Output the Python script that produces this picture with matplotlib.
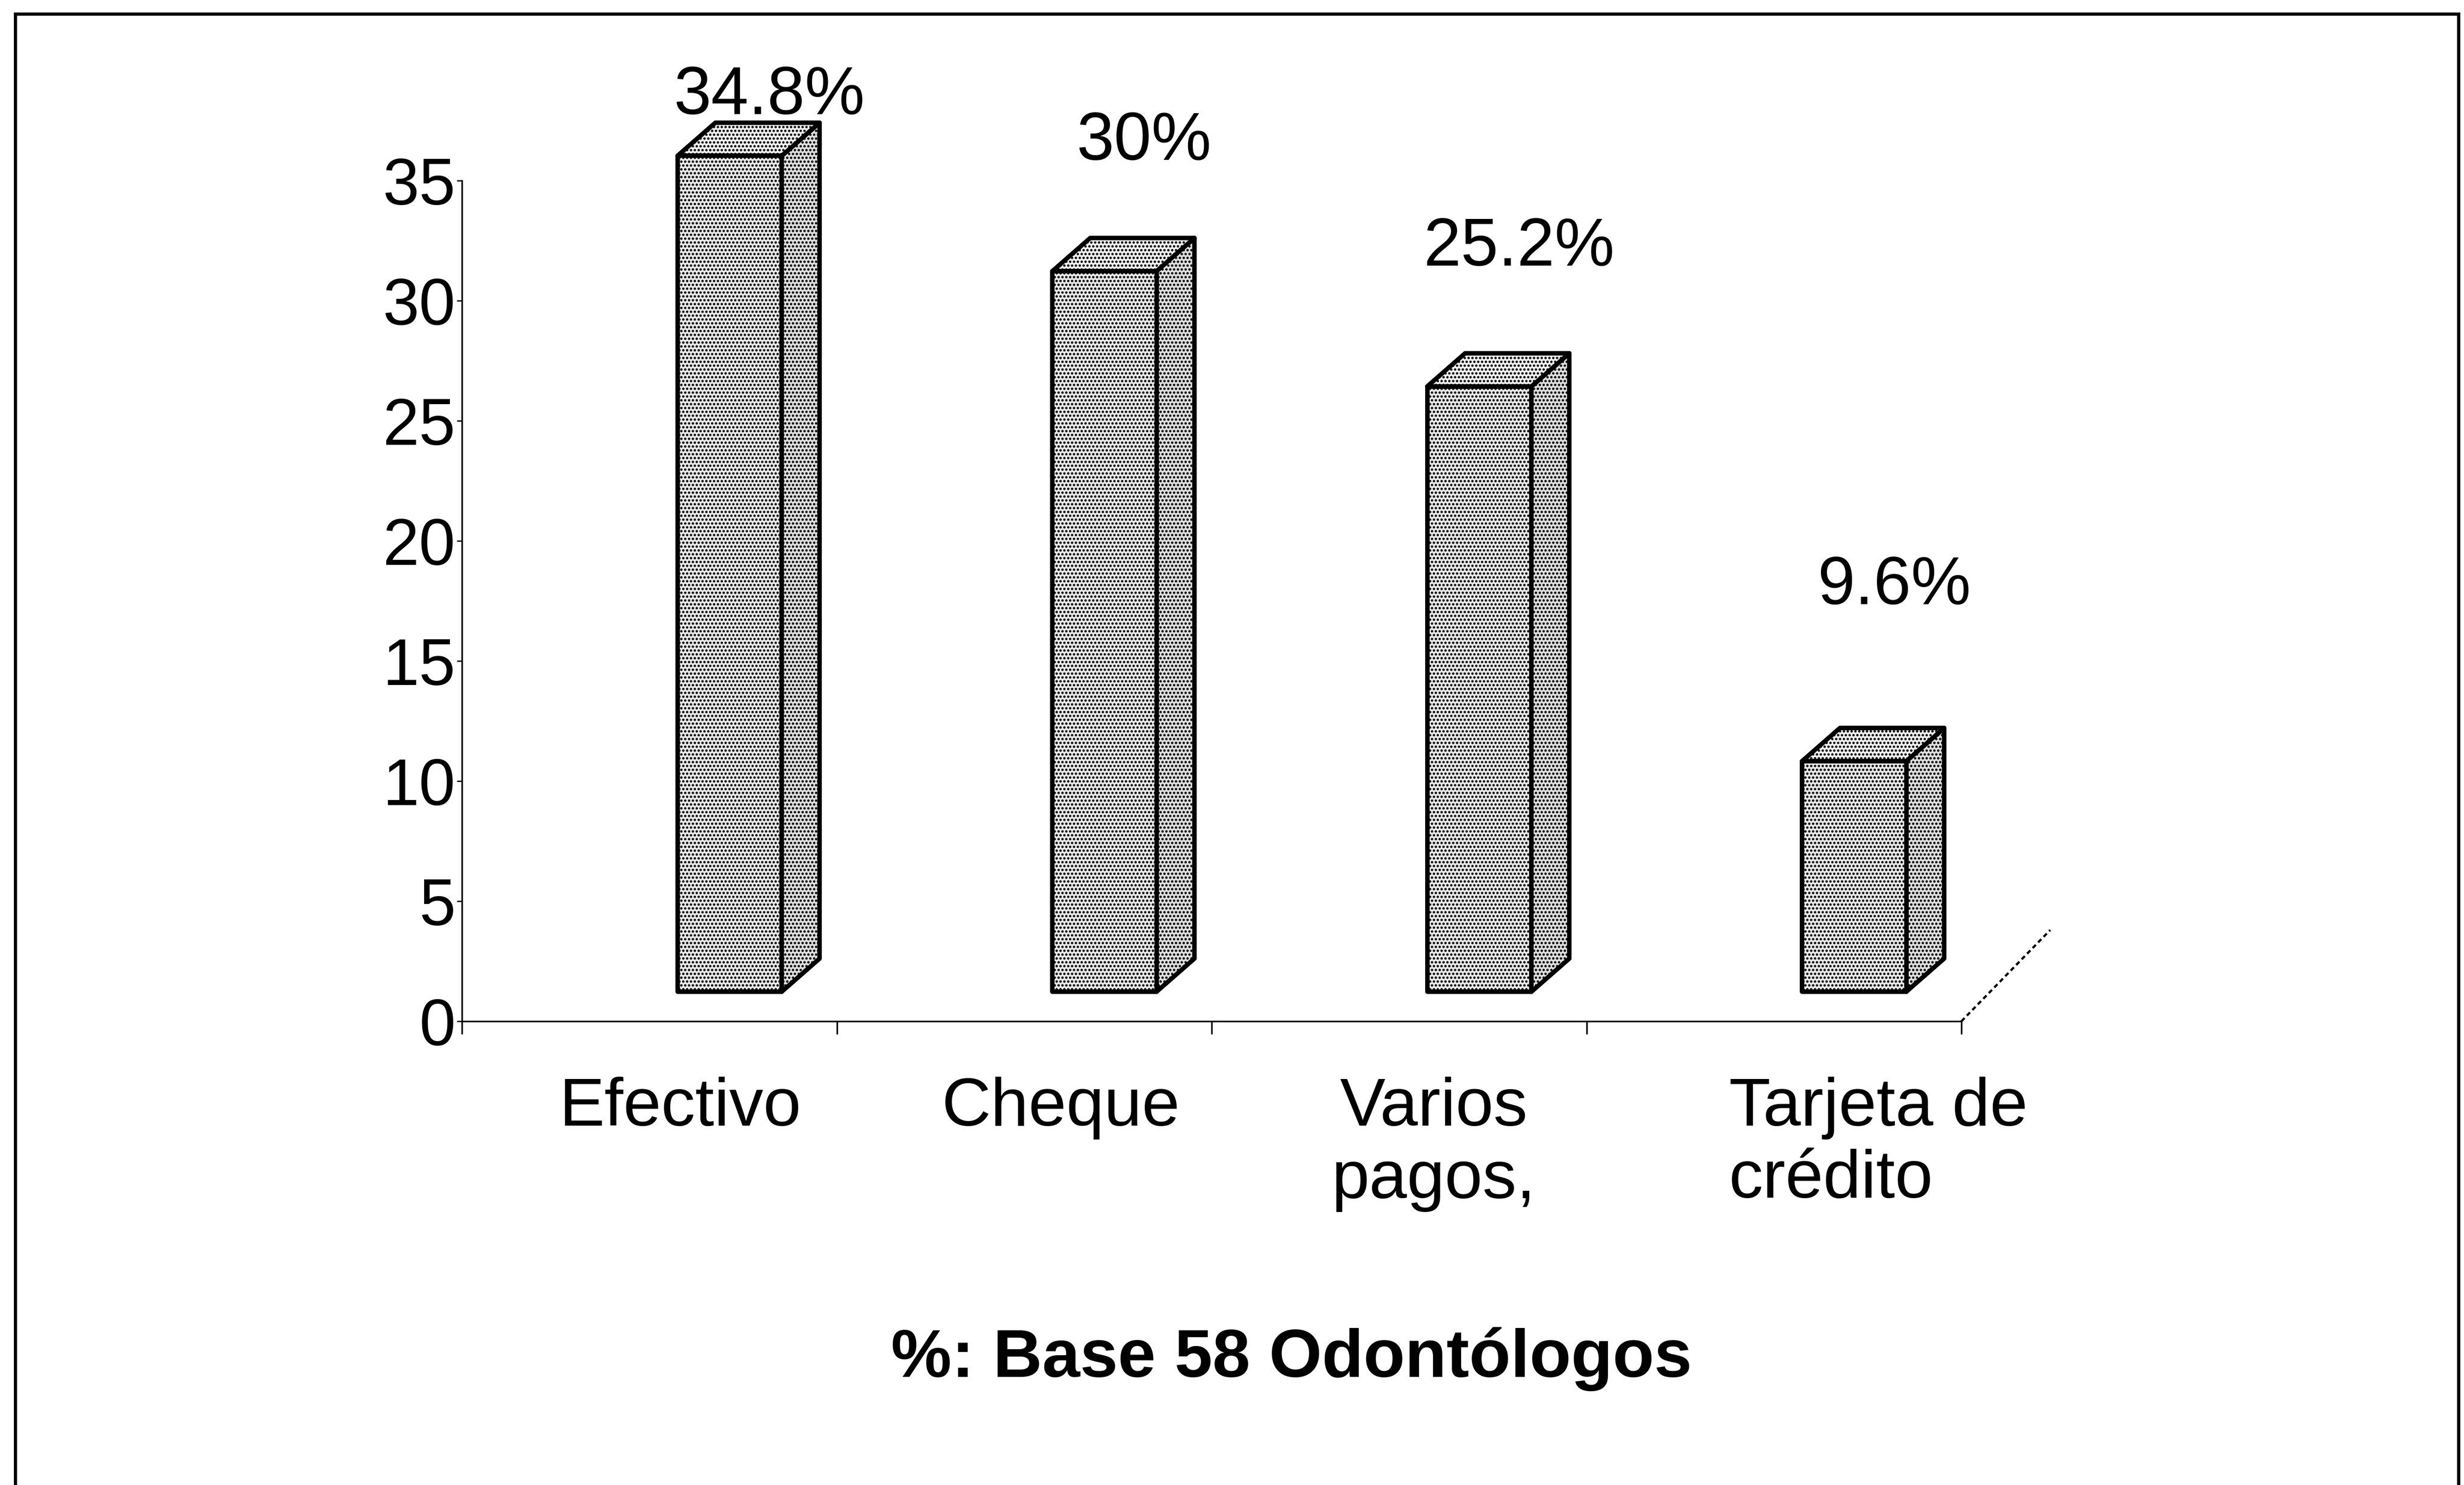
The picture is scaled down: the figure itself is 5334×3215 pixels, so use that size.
import matplotlib
matplotlib.use('Agg')
import matplotlib.pyplot as plt
from matplotlib.patches import Polygon
from matplotlib.lines import Line2D

plt.rcParams['font.family'] = ['Liberation Sans', 'DejaVu Sans']
plt.rcParams['hatch.linewidth'] = 2.5
plt.rcParams['hatch.color'] = '#222222'

# data
categories = ['Efectivo', 'Cheque', 'Varios\npagos,', 'Tarjeta de\ncrédito']
values = [34.8, 30.0, 25.2, 9.6]
value_labels = ['34.8%', '30%', '25.2%', '9.6%']
yticks = [0, 5, 10, 15, 20, 25, 30, 35]
title = '%: Base 58 Odontólogos'

# layout of the fake 3D look (category units / value units)
label_lift = [3.7, 6.6, 7.0, 8.5]
cat_nudge = [0.26, 0.28, 0.32, 0.38]
cat_align = ['left', 'left', 'center', 'left']
bar_left = 0.575
bar_w = 0.278
floor_y = 1.23
depth_x = 0.101
depth_y = 1.38

W, H, DPI = 5334, 3215, 100
fig = plt.figure(figsize=(W / DPI, H / DPI), dpi=DPI)
fig.patch.set_facecolor('white')

# plot area in pixels: x 1000..4246, y 2211 (0) .. 391 (35)
ax = fig.add_axes([1000 / W, (H - 2211) / H, 3246 / W, (2211 - 391) / H])
ax.set_xlim(0, 4)
ax.set_ylim(0, 35)
ax.set_facecolor('none')

for s in ['top', 'right']:
    ax.spines[s].set_visible(False)
for s in ['left', 'bottom']:
    ax.spines[s].set_linewidth(2.5)

ax.set_yticks(yticks)
ax.set_yticklabels([str(t) for t in yticks])
ax.set_xticks(range(len(categories) + 1))
ax.set_xticklabels([])
ax.tick_params(axis='y', length=8, width=2, pad=2, labelsize=102)
ax.tick_params(axis='x', length=20, width=2.5)

# floor edge going back to the right
ax.add_line(Line2D([4, 4 + 0.237], [0, 3.8], color='black', lw=3.5,
                   ls=(0, (2, 1.5)), clip_on=False))

for i, v in enumerate(values):
    x0 = i + bar_left
    x1 = x0 + bar_w
    y0 = floor_y
    y1 = floor_y + v
    front = [(x0, y0), (x1, y0), (x1, y1), (x0, y1)]
    side = [(x1, y0), (x1 + depth_x, y0 + depth_y), (x1 + depth_x, y1 + depth_y), (x1, y1)]
    top = [(x0, y1), (x1, y1), (x1 + depth_x, y1 + depth_y), (x0 + depth_x, y1 + depth_y)]
    for pts, fc in [(side, '#dedede'), (top, '#efefef'), (front, '#e8e8e8')]:
        ax.add_patch(Polygon(pts, closed=True, facecolor=fc, edgecolor='black',
                             lw=7, hatch='..', joinstyle='round', clip_on=False))
    ax.text(i + 0.82, v + label_lift[i], value_labels[i], ha='center', va='center',
            fontsize=105, clip_on=False)
    ax.text(i + cat_nudge[i], -2.3, categories[i], ha='left', va='top',
            fontsize=106, linespacing=1.2, multialignment=cat_align[i], clip_on=False)

fig.text(2796 / W, (H - 2943) / H, title, ha='center', va='center',
         fontsize=106, fontweight='bold')

# scanned frame round the chart, open at the bottom
fx0, fx1, fy = 33 / W, 5322 / W, (H - 30) / H
for xs, ys in [([fx0, fx0], [0, fy]), ([fx0, fx1], [fy, fy]), ([fx1, fx1], [fy, 0])]:
    fig.add_artist(Line2D(xs, ys, transform=fig.transFigure, color='black', lw=5))

fig.savefig('out.png', dpi=DPI, facecolor='white')
